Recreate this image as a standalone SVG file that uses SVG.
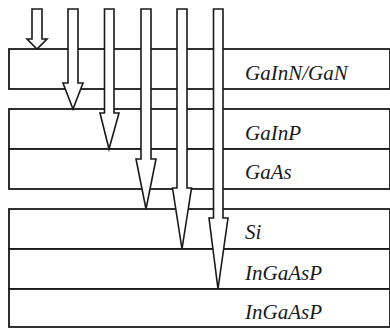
<svg xmlns="http://www.w3.org/2000/svg" width="390" height="329" viewBox="0 0 390 329">
<style>
.layer{fill:#fff;stroke:#1a1a1a;stroke-width:1.8}
.lbl{font-family:"Liberation Serif","Times New Roman",serif;font-style:italic;font-size:21px;fill:#1a1a1a}
.arrow{fill:#fff;stroke:#1a1a1a;stroke-width:1.6;stroke-linejoin:miter}
</style>
<rect width="390" height="329" fill="#fff"/>
<g id="layer-gainn-gan"><rect class="layer" x="9" y="49" width="381" height="40"/><text class="lbl" x="245" y="80">GaInN/GaN</text></g>
<g id="layer-gainp"><rect class="layer" x="9" y="109" width="381" height="40"/><text class="lbl" x="245" y="140">GaInP</text></g>
<g id="layer-gaas"><rect class="layer" x="9" y="149" width="381" height="40"/><text class="lbl" x="245" y="179">GaAs</text></g>
<g id="layer-si"><rect class="layer" x="9" y="209" width="381" height="40"/><text class="lbl" x="245" y="239">Si</text></g>
<g id="layer-ingaasp-1"><rect class="layer" x="9" y="249" width="381" height="40"/><text class="lbl" x="245" y="280">InGaAsP</text></g>
<g id="layer-ingaasp-2"><rect class="layer" x="9" y="289" width="381" height="38"/><text class="lbl" x="245" y="319">InGaAsP</text></g>
<g id="connectors">
<polygon class="arrow" points="32,9 42,9 42,39 47,39 37,49 27,39 32,39"/>
<polygon class="arrow" points="68,9 78,9 78,83 83,83 73,109 63,83 68,83"/>
<polygon class="arrow" points="104.5,9 114,9 114,113 119,113 109,149 100,113 104.5,113"/>
<polygon class="arrow" points="141,9 151,9 151,159 156,159 146,209 136,159 141,159"/>
<polygon class="arrow" points="177,9 187,9 187,188 191.5,188 182,249 172.5,188 177,188"/>
<polygon class="arrow" points="213.5,9 223,9 223,218 228,218 218,289 209,218 213.5,218"/>
</g>
</svg>
